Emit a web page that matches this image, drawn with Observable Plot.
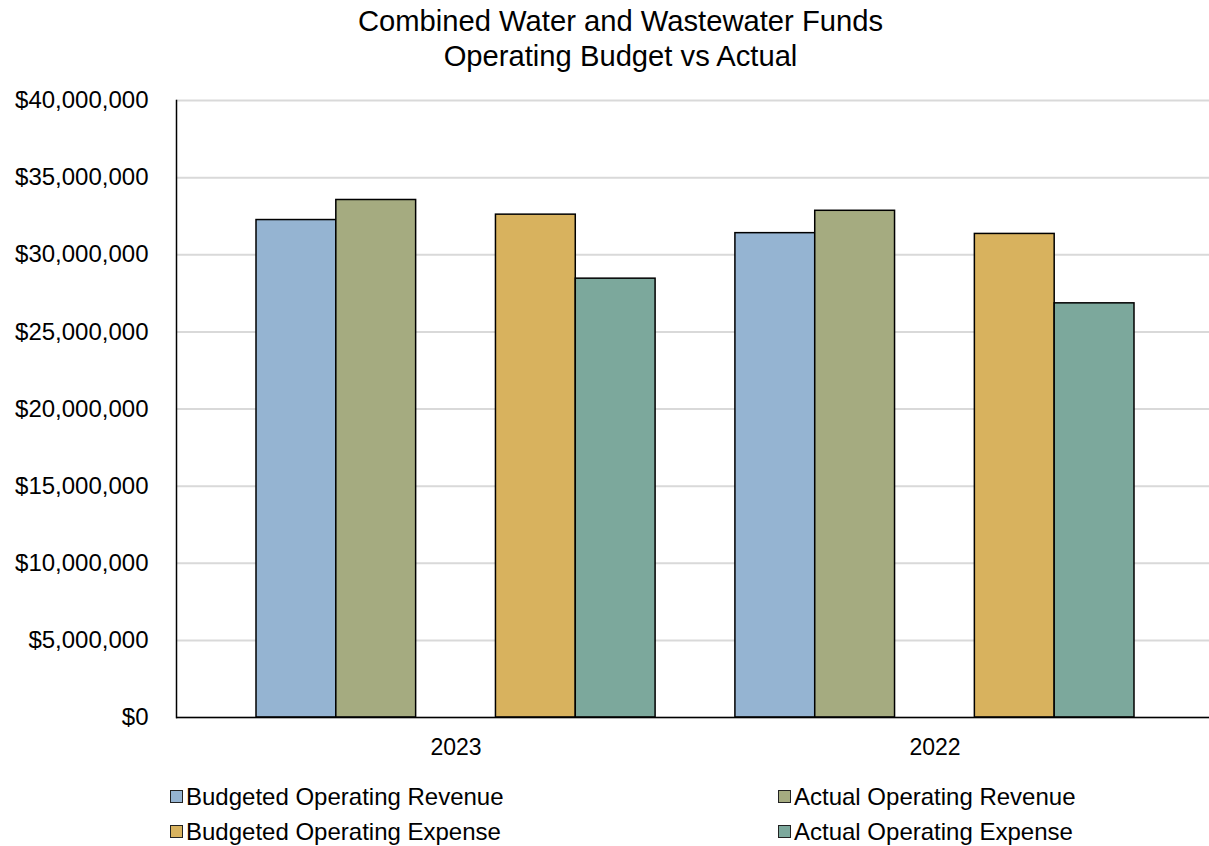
<!DOCTYPE html>
<html>
<head>
<meta charset="utf-8">
<script src="https://cdn.jsdelivr.net/npm/d3@7"></script>
<script src="https://cdn.jsdelivr.net/npm/@observablehq/plot@0.6"></script>
<style>
  html, body { margin: 0; padding: 0; background: #fff; }
  body { width: 1209px; height: 846px; overflow: hidden; font-family: "Liberation Sans", Arial, sans-serif; color: #000; }
  #title { height: 74px; box-sizing: border-box; padding-top: 4px; text-align: center; font-size: 29.2px; line-height: 35px; padding-left: 32px; }
  #chart svg { display: block; }
  #legend { position: relative; height: 72px; font-size: 24px; }
  .item { position: absolute; display: flex; align-items: center; height: 35px; white-space: nowrap; }
  .sw { width: 11px; height: 11px; border: 1.5px solid #222; margin-right: 3px; }
</style>
</head>
<body>
<div id="title">Combined Water and Wastewater Funds<br>Operating Budget vs Actual</div>
<div id="chart"></div>
<div id="legend"></div>
<script>
const years = ["2023", "2022"];
const seriesNames = ["Budgeted Operating Revenue", "Actual Operating Revenue", "Budgeted Operating Expense", "Actual Operating Expense"];
const seriesColors = ["#95b4d2", "#a5ab80", "#d8b25e", "#7ca89c"];
const budgetedRevenue = [32250000, 31400000];
const actualRevenue = [33550000, 32850000];
const budgetedExpense = [32600000, 31350000];
const actualExpense = [28450000, 26850000];
const yTicks = [0, 5000000, 10000000, 15000000, 20000000, 25000000, 30000000, 35000000, 40000000];

// slot layout within each year group: revenue pair, empty slot, expense pair
const slotOfSeries = [0, 1, 3, 4];
const seriesValues = [budgetedRevenue, actualRevenue, budgetedExpense, actualExpense];

const xDomain = [];
years.forEach((yr, i) => {
  if (i > 0) xDomain.push("sep" + i);
  for (let s = 0; s < 5; s++) xDomain.push(yr + "|" + s);
});

const data = [];
years.forEach((yr, i) => {
  seriesNames.forEach((name, j) => {
    data.push({key: yr + "|" + slotOfSeries[j], series: name, value: seriesValues[j][i]});
  });
});

const fmt = d3.format("$,.0f");

const chart = Plot.plot({
  width: 1209,
  height: 700,
  marginLeft: 176,
  marginRight: 0,
  marginTop: 26,
  marginBottom: 57,
  style: {fontFamily: '"Liberation Sans", Arial, sans-serif', fontSize: "24px", color: "#000", background: "#fff", maxWidth: "none"},
  x: {domain: xDomain, range: [256, 1134], padding: 0, round: false},
  y: {domain: [0, 40000000]},
  color: {domain: seriesNames, range: seriesColors},
  marks: [
    Plot.gridY(yTicks, {stroke: "#d9d9d9", strokeOpacity: 1, strokeWidth: 2}),
    Plot.barY(data, {x: "key", y: "value", fill: "series", stroke: "#000", strokeWidth: 1.5}),
    Plot.ruleY([0], {stroke: "#000", strokeWidth: 1.5}),
    Plot.axisY({ticks: yTicks, tickFormat: fmt, tickSize: 0, tickPadding: 28, fontSize: 24, label: null}),
    Plot.frame({anchor: "left", stroke: "#000", strokeWidth: 1.5}),
    Plot.axisX({ticks: years.map(y => y + "|2"), tickFormat: d => d.split("|")[0], tickSize: 0, tickPadding: 21, fontSize: 23, label: null})
  ]
});
document.getElementById("chart").appendChild(chart);

const legend = document.getElementById("legend");
const positions = [[170, 5], [778, 5], [170, 40], [778, 40]];
seriesNames.forEach((name, j) => {
  const it = document.createElement("div");
  it.className = "item";
  it.style.left = positions[j][0] + "px";
  it.style.top = positions[j][1] + "px";
  const sw = document.createElement("div");
  sw.className = "sw";
  sw.style.background = seriesColors[j];
  const tx = document.createElement("span");
  tx.textContent = name;
  it.appendChild(sw);
  it.appendChild(tx);
  legend.appendChild(it);
});
</script>
</body>
</html>
